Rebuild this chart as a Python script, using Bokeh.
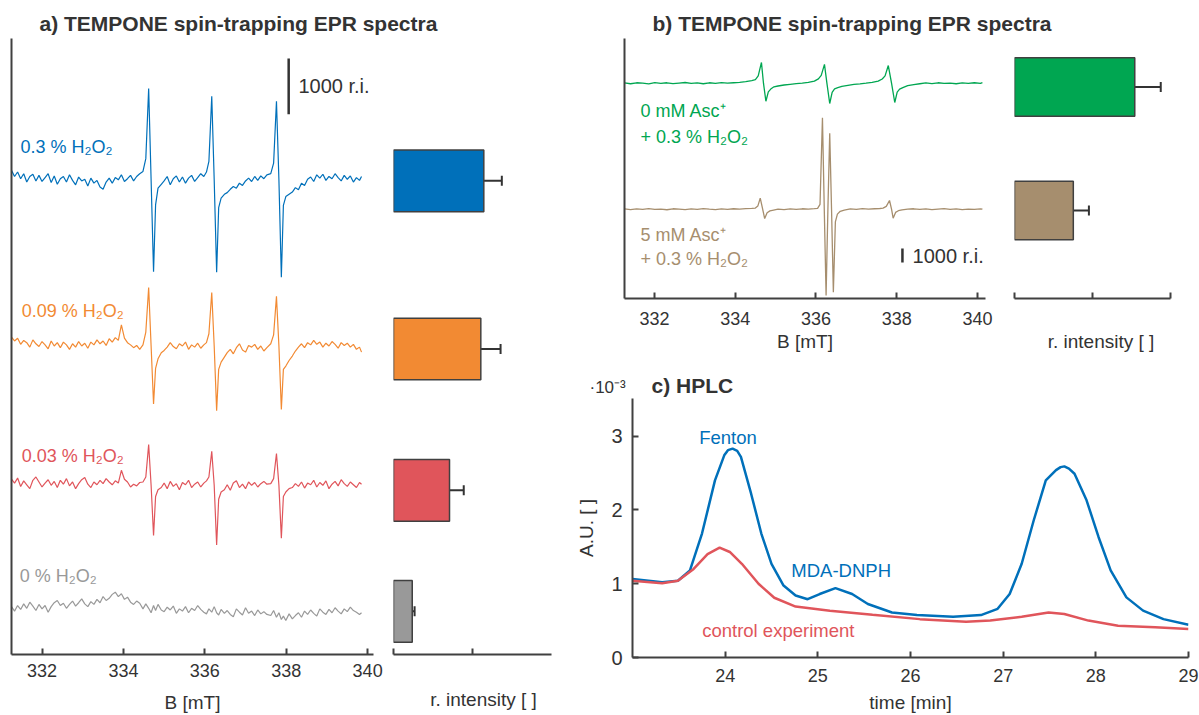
from bokeh.plotting import figure
from bokeh.layouts import row, column
from bokeh.models import Range1d, Label, FixedTicker, Whisker, TeeHead, ColumnDataSource
from bokeh.embed import file_html
from bokeh.resources import INLINE

FONT = "Liberation Sans"
AX = "#404040"
TXT = "#333333"

# ---------------- panel a: EPR spectra (B in mT, intensity in r.i.) ----------------
a_B = [331.25, 331.325, 331.40, 331.475, 331.55, 331.625, 331.70, 331.775, 331.85, 331.925, 332.00,
       332.075, 332.15, 332.225, 332.30, 332.375, 332.45, 332.525, 332.60, 332.675, 332.75, 332.825,
       332.90, 332.975, 333.05, 333.125, 333.20, 333.275, 333.35, 333.425, 333.50, 333.575, 333.65,
       333.725, 333.80, 333.875, 333.95, 334.025, 334.10, 334.175, 334.25, 334.325, 334.40,
       334.48, 334.55, 334.62, 334.68, 334.74, 334.79, 334.85, 334.93,
       335.00, 335.075, 335.15, 335.225, 335.30, 335.375, 335.45, 335.525, 335.60, 335.675, 335.75,
       335.825, 335.90, 335.975,
       336.04, 336.10, 336.17, 336.23, 336.29, 336.34, 336.40, 336.48,
       336.55, 336.625, 336.70, 336.775, 336.85, 336.925, 337.00, 337.075, 337.15, 337.225, 337.30,
       337.375, 337.45, 337.525,
       337.62, 337.69, 337.76, 337.82, 337.88, 337.93, 337.99, 338.07,
       338.15, 338.225, 338.30, 338.375, 338.45, 338.525, 338.60, 338.675, 338.75, 338.825, 338.90,
       338.975, 339.05, 339.125, 339.20, 339.275, 339.35, 339.425, 339.50, 339.575, 339.65, 339.725,
       339.80, 339.85]
a_blue = [170, 60, 140, 20, 110, -40, 60, 100, -20, 80, -30, 40, 110, -50, 70, -80, 20, 60, -40, 90, -10,
          -90, 50, -20, 10, -110, 30, -60, -10, -130, -170, -40, 30, -60, 40, 0, 90, -30, 20, 80, -20, 60, 110,
          150, 380, 1640, 0, -1650, -450, -150, -80,
          -20, 60, -90, 20, 70, -40, 50, -60, 30, 80, -30, 40, 110, 60,
          140, 330, 1500, 0, -1660, -500, -330, -260,
          -230, -170, -120, -150, -60, -100, -20, 30, -30, 60, -10, 70, 20, 90,
          110, 300, 1410, 0, -1750, -460, -300, -260,
          -220, -140, -180, -60, -100, 10, 50, -30, 90, 30, 100, -10, 60, 20, 110, 40, -20, 80, 10, 70,
          -40, 40, -10, 60]
a_orange = [160, 90, 140, 30, 100, 60, -20, 110, 40, -10, 80, 20, -50, 90, 0, 60, -30, 70, 20, -60, 40,
            -20, 80, 0, 50, -40, 70, 20, 110, 40, 90, 10, 130, 70, 150, 100, 380, 140, 60, 20, -30, 10, -60,
            20, 250, 1050, 0, -1040, -400, -230, -120,
            -80, -20, 60, -10, -50, 40, 0, 70, -60, 20, -20, 50, -40, 20,
            60, 220, 960, 0, -1160, -420, -290, -200,
            -120, -60, -140, -30, 40, -70, -110, 10, -20, 30, -60, 0, -90, -30,
            40, 200, 890, 0, -1140, -420, -360, -260,
            -180, -90, -20, 40, -30, 60, 20, 100, 30, 70, -20, 50, 0, 80, 30, -40, 60, 10, 50, -20,
            30, -60, -20, -110]
a_red = [110, 40, 130, -20, 80, 10, -60, 90, 150, 60, -30, 40, 100, 0, 70, -40, 90, 20, 120, -10, 60,
         -60, 30, 100, 140, 20, -40, 60, 10, 90, 30, 120, 60, 10, 80, 40, 270, 110, 60, -30, 20, -10, 50,
         60, 150, 730, 0, -900, -200, -80, -40,
         40, -60, 70, -20, 30, -80, 50, 10, 90, -40, 20, 60, -30, 40,
         80, 150, 610, 0, -1070, -250, -120, -80,
         10, -90, 40, 80, -40, 20, -60, 60, 0, 50, -30, 30, 70, 20,
         30, 120, 570, 0, -950, -200, -120, -60,
         -40, 30, -20, 60, -50, 40, 10, 90, -30, 50, 0, 80, -60, 20, 70, -10, 100, 30, -20, 60,
         10, -40, 50, 20]
a_gray = [20, -60, 40, -30, 70, -10, 100, 30, -50, 60, -20, 40, -80, 20, 90, 130, 40, 80, -10, 60, 120,
          30, 90, 160, 70, 20, 110, 60, 150, 90, 200, 130, 170, 240, 280, 200, 250, 150, 190, 100, 60, 120, 80,
          -20, 70, -10, -90, 40, -50, 60, -40,
          -70, 10, -40, 30, -100, -20, -60, 20, -90, -10, -50, 40, -30, -80,
          -110, -20, -80, 20, -90, -130, -30, -100,
          -50, -120, -160, -20, -80, -130, 0, -100, -60, -140, -40, -110, -70, -120,
          -140, -50, -170, -90, -210, -150, -230, -110,
          -200, -140, -90, -170, -60, -120, -40, -100, -150, -20, -80, -120, -30, -90, 0, -60, -110, -20,
          -70, 10, -50, -80, -120, -90]
a_series = [a_blue, a_orange, a_red, a_gray]
a_offsets = [8518, 5536, 3036, 839]
a_labels = ["0.3 % H\u2082O\u2082", "0.09 % H\u2082O\u2082", "0.03 % H\u2082O\u2082", "0 % H\u2082O\u2082"]
a_colors = ["#0070BA", "#F28A33", "#E0555B", "#999999"]
a_ticks = [332, 334, 336, 338, 340]
a_scale_B = 338.06
a_scale_base = 9696
scale_len = 1000

# bar chart a (relative intensity)
a_bar_values = [1.143, 1.105, 0.709, 0.237]
a_bar_errors = [0.228, 0.25, 0.18, 0.03]
a_bar_pos = [8500, 5482, 2946, 775]

# ---------------- panel b ----------------
b_green_B = [331.26, 331.41, 331.56, 331.71, 331.86, 332.01, 332.16, 332.31, 332.46, 332.61, 332.76,
             332.91, 333.06, 333.21, 333.36, 333.51, 333.66, 333.81, 333.96, 334.11, 334.26, 334.41,
             334.50, 334.57, 334.65, 334.70, 334.76, 334.82, 334.88, 334.96,
             335.06, 335.21, 335.36, 335.51, 335.66, 335.81, 335.96,
             336.06, 336.13, 336.21, 336.27, 336.34, 336.40, 336.46, 336.54,
             336.64, 336.79, 336.94, 337.09, 337.24, 337.39, 337.54,
             337.64, 337.71, 337.79, 337.87, 337.95, 338.01, 338.07, 338.15,
             338.27, 338.42, 338.57, 338.72, 338.87, 339.02, 339.17, 339.32, 339.47, 339.62, 339.77,
             339.92, 340.07, 340.12]
b_green = [20, -40, 30, 0, -50, 40, -20, 30, -30, 10, 50, -20, 20, -40, 30, -10, 40, 0, 30, 60, 110, 190,
           260, 520, 1480, 0, -1290, -620, -420, -260,
           -200, -130, -80, -30, 10, 60, 150,
           310, 560, 1340, 0, -1450, -650, -400, -320,
           -230, -160, -90, -50, 0, 60, 150,
           300, 520, 1260, 0, -1380, -640, -430, -320,
           -180, -100, -40, 20, -30, 30, -20, 10, -40, 20, -10, 30, -20, 40]
b_brown_B = [331.26, 331.41, 331.56, 331.71, 331.86, 332.01, 332.16, 332.31, 332.46, 332.61, 332.76,
             332.91, 333.06, 333.21, 333.36, 333.51, 333.66, 333.81, 333.96, 334.11, 334.26, 334.41,
             334.50, 334.56, 334.62, 334.68, 334.73, 334.79, 334.86, 334.95,
             335.06, 335.21, 335.36, 335.51, 335.66, 335.81, 335.96,
             336.04, 336.10, 336.16, 336.205, 336.25, 336.295, 336.34, 336.385, 336.43, 336.48, 336.53, 336.60,
             336.70, 336.85, 337.00, 337.15, 337.30, 337.45, 337.58,
             337.66, 337.74, 337.82, 337.87, 337.91, 337.97, 338.04, 338.13,
             338.27, 338.42, 338.57, 338.72, 338.87, 339.02, 339.17, 339.32, 339.47, 339.62, 339.77,
             339.92, 340.07, 340.12]
b_brown = [30, -30, 20, -10, 40, -20, 10, -40, 30, 0, -30, 20, -20, 40, 0, -30, 20, -10, 30, 10, 40, 60,
           80, 220, 790, 0, -670, -250, -120, -60,
           0, -30, 20, -20, 30, 10, 40,
           60, 350, 6530, 0, -6160, 0, 5430, 0, -5930, -900, -350, -150,
           -60, 20, -20, 40, 0, 30, 50,
           80, 200, 620, 0, -640, -230, -110, -50,
           0, 30, -20, 20, -30, 10, 40, -10, 20, -30, 10, -20, 30, 0]
b_offsets = [15379, 6379]
b_labels = [("0 mM Asc\u207A", "+ 0.3 % H\u2082O\u2082"), ("5 mM Asc\u207A", "+ 0.3 % H\u2082O\u2082")]
b_colors = ["#00A651", "#A68E6E"]
b_scale_B = 338.14
b_scale_base = 2571

b_bar_values = [1.542, 0.754]
b_bar_errors = [0.333, 0.2]
b_bar_pos = [15107, 6286]

# ---------------- panel c: HPLC ----------------
c_fenton_t = [23.00, 23.32, 23.49, 23.62, 23.75, 23.89, 23.99, 24.03, 24.08, 24.13, 24.17, 24.28, 24.39,
              24.50, 24.63, 24.76, 24.89, 25.02, 25.19, 25.37, 25.54, 25.80, 26.07, 26.46, 26.76, 26.94,
              27.07, 27.20, 27.33, 27.46, 27.57, 27.62, 27.66, 27.71, 27.77, 27.90, 28.03, 28.16, 28.33,
              28.51, 28.73, 29.00]
c_fenton = [1.065, 1.02, 1.04, 1.18, 1.68, 2.40, 2.74, 2.81, 2.83, 2.80, 2.72, 2.22, 1.68,
            1.27, 0.975, 0.84, 0.79, 0.86, 0.94, 0.86, 0.725, 0.61, 0.575, 0.553, 0.575, 0.66,
            0.86, 1.27, 1.86, 2.40, 2.54, 2.58, 2.59, 2.56, 2.49, 2.13, 1.63, 1.18, 0.815,
            0.635, 0.52, 0.445]
c_control_t = [23.00, 23.32, 23.49, 23.66, 23.81, 23.94, 24.05, 24.18, 24.36, 24.53, 24.76, 25.13,
               25.59, 26.10, 26.60, 26.86, 27.20, 27.49, 27.66, 27.92, 28.24, 28.64, 29.00]
c_control = [1.04, 1.005, 1.04, 1.20, 1.40, 1.49, 1.43, 1.27, 1.00, 0.81, 0.69, 0.635,
             0.58, 0.52, 0.485, 0.50, 0.553, 0.61, 0.59, 0.50, 0.43, 0.41, 0.385]
c_xticks = [24, 25, 26, 27, 28, 29]
c_yticks = [0, 1, 2, 3]


# ---------------- helpers ----------------
def base_fig(width, height, x_range, y_range, ml, mr, mt, mb, xloc="below", yloc="left"):
    p = figure(width=width, height=height, x_range=x_range, y_range=y_range,
               output_backend="svg", toolbar_location=None, title_location=None,
               x_axis_location=xloc, y_axis_location=yloc,
               min_border_left=ml, min_border_right=mr, min_border_top=mt, min_border_bottom=mb)
    p.outline_line_color = None
    p.grid.visible = False
    p.background_fill_color = "white"
    p.border_fill_color = "white"
    return p


def style_axis(ax, ticks, label_size="18px", standoff=5, label_standoff=2, axis_label=None):
    ax.ticker = FixedTicker(ticks=ticks)
    ax.axis_line_color = AX
    ax.axis_line_width = 2
    ax.major_tick_line_color = AX
    ax.major_tick_line_width = 2
    ax.major_tick_in = 6
    ax.major_tick_out = 0
    ax.minor_tick_line_color = None
    ax.minor_tick_in = 0
    ax.minor_tick_out = 0
    ax.major_label_text_font = FONT
    ax.major_label_text_font_size = label_size
    ax.major_label_text_color = TXT
    ax.major_label_standoff = standoff
    ax.axis_label_text_font = FONT
    ax.axis_label_text_font_size = "19px"
    ax.axis_label_text_font_style = "normal"
    ax.axis_label_text_color = TXT
    ax.axis_label_standoff = label_standoff
    if axis_label is not None:
        ax.axis_label = axis_label


def bare_left_axis(ax):
    ax.ticker = FixedTicker(ticks=[])
    ax.axis_line_color = AX
    ax.axis_line_width = 2
    ax.major_tick_in = 0
    ax.major_tick_out = 0
    ax.minor_tick_in = 0
    ax.minor_tick_out = 0
    ax.major_label_standoff = 0
    ax.axis_label_standoff = 0


def text(p, x, y, s, color, size="18px", bold=False):
    p.add_layout(Label(x=x, y=y, text=s, text_color=color, text_font=FONT,
                       text_font_size=size, text_baseline="middle", text_align="left",
                       text_font_style="bold" if bold else "normal"))


def text_fig(width, height):
    p = figure(width=width, height=height, x_range=Range1d(0, width), y_range=Range1d(0, height),
               output_backend="svg", toolbar_location=None, title_location=None,
               x_axis_location=None, y_axis_location=None, min_border=0)
    p.outline_line_color = None
    p.grid.visible = False
    return p


def bars(p, pos, vals, errs, colors, height):
    p.hbar(y=pos, left=0, right=vals, height=height, fill_color=colors,
           line_color=AX, line_width=1.5)
    src = ColumnDataSource(dict(base=pos,
                                lower=[v - e for v, e in zip(vals, errs)],
                                upper=[v + e for v, e in zip(vals, errs)]))
    w = Whisker(source=src, base="base", lower="lower", upper="upper", dimension="width",
                line_color=TXT, line_width=2,
                lower_head=TeeHead(size=10, line_color=TXT, line_width=2),
                upper_head=TeeHead(size=10, line_color=TXT, line_width=2))
    p.add_layout(w)


# ---------------- panel a ----------------
pa = base_fig(388, 679, Range1d(331.25, 340.144), Range1d(0, 11054), 11, 15, 2, 58)
style_axis(pa.xaxis[0], a_ticks, standoff=9, label_standoff=12, axis_label="B [mT]")
bare_left_axis(pa.yaxis[0])
for ys, off, col in zip(a_series, a_offsets, a_colors):
    pa.line(a_B, [v + off for v in ys], line_color=col, line_width=1.2)
label_xy_a = [(331.47, 9107), (331.50, 6161), (331.50, 3571), (331.45, 1411)]
for (lx, ly), s, col in zip(label_xy_a, a_labels, a_colors):
    text(pa, lx, ly, s, col, size="18px")
pa.segment(x0=[a_scale_B], y0=[a_scale_base], x1=[a_scale_B], y1=[a_scale_base + scale_len],
           line_color=TXT, line_width=2.5)
text(pa, 338.30, a_scale_base + scale_len / 2, "1000 r.i.", TXT, size="20px")

pab = base_fig(185, 679, Range1d(0, 2.278), pa.y_range, 5, 0, 2, 58, yloc=None)
style_axis(pab.xaxis[0], [0, 1], standoff=5, label_standoff=34, axis_label="r. intensity [ ]")
pab.xaxis[0].major_label_overrides = {0: "", 1: ""}
pab.xaxis[0].bounds = (0, 2)
bars(pab, a_bar_pos, a_bar_values, a_bar_errors, a_colors, 1107)

# ---------------- panel b ----------------
pb = base_fig(427, 324, Range1d(331.26, 340.196), Range1d(0, 18571), 51, 15, 2, 62)
style_axis(pb.xaxis[0], a_ticks, standoff=13, label_standoff=3, axis_label="B [mT]")
bare_left_axis(pb.yaxis[0])
pb.line(b_green_B, [v + b_offsets[0] for v in b_green], line_color=b_colors[0], line_width=1.3)
pb.line(b_brown_B, [v + b_offsets[1] for v in b_brown], line_color=b_colors[1], line_width=1.3)
label_xy_b = [((331.656, 13357), (331.656, 11571)), ((331.656, 4571), (331.656, 2857))]
for ((x1, y1), (x2, y2)), (s1, s2), col in zip(label_xy_b, b_labels, b_colors):
    text(pb, x1, y1, s1, col, size="18px")
    text(pb, x2, y2, s2, col, size="18px")
pb.segment(x0=[b_scale_B], y0=[b_scale_base], x1=[b_scale_B], y1=[b_scale_base + scale_len],
           line_color=TXT, line_width=2.5)
text(pb, 338.39, b_scale_base + scale_len / 2, "1000 r.i.", TXT, size="20px")

pbb = base_fig(199, 324, Range1d(0, 2.218), pb.y_range, 14, 12, 2, 62, yloc=None)
style_axis(pbb.xaxis[0], [0, 1, 2], standoff=13, label_standoff=32, axis_label="r. intensity [ ]")
pbb.xaxis[0].major_label_overrides = {0: "", 1: "", 2: ""}
pbb.xaxis[0].bounds = (0, 2)
bars(pbb, b_bar_pos, b_bar_values, b_bar_errors, b_colors, 4164)

# ---------------- panel c ----------------
pc = base_fig(626, 317, Range1d(23, 29), Range1d(0, 3.51), 51, 11, 0, 58)
style_axis(pc.xaxis[0], c_xticks, standoff=11, label_standoff=7, axis_label="time [min]")
style_axis(pc.yaxis[0], c_yticks, label_size="20px", standoff=10, label_standoff=11, axis_label="A.U. [ ]")
pc.line(c_fenton_t, c_fenton, line_color="#0070BA", line_width=2.5)
pc.line(c_control_t, c_control, line_color="#E0555B", line_width=2.5)
text(pc, 23.72, 2.977, "Fenton", "#0070BA", size="18.5px")
text(pc, 24.714, 1.175, "MDA-DNPH", "#0070BA", size="18.5px")
text(pc, 23.752, 0.362, "control experiment", "#E0555B", size="18.5px")

# ---------------- title strips ----------------
tA = text_fig(573, 36)
text(tA, 39, 13.3, "a) TEMPONE spin-trapping EPR  spectra", TXT, size="21px", bold=True)
tB = text_fig(626, 36)
text(tB, 79, 12.6, "b) TEMPONE spin-trapping EPR spectra", TXT, size="21px", bold=True)
tC = text_fig(626, 38)
text(tC, 16, 11, "\u00B710\u207B\u00B3", TXT, size="17px")
text(tC, 78, 12.8, "c) HPLC", TXT, size="21px", bold=True)

# ---------------- layout ----------------
left = column(row(tA), row(pa, pab))
right = column(row(tB), row(pb, pbb), row(tC), row(pc))
layout = row(left, right)

open("out.html", "w").write(file_html(layout, INLINE))
